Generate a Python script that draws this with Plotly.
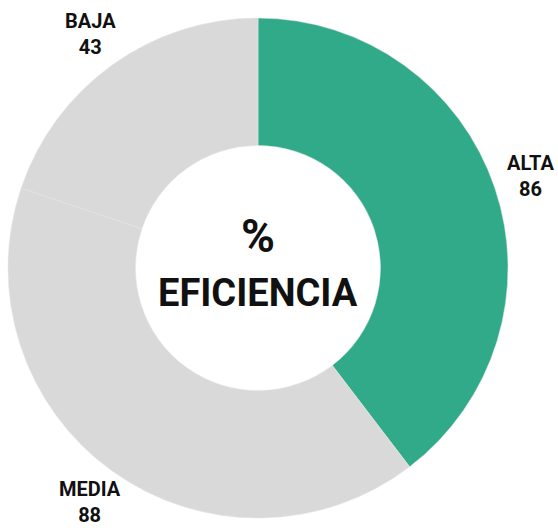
import math
import plotly.graph_objects as go

labels = ["ALTA", "MEDIA", "BAJA"]
values = [86, 88, 43]
colors = ["#31aa8a", "#d9d9d9", "#d9d9d9"]

W, H = 558, 532
CX, CY, R = 258, 268, 250  # pie centre / radius in pixels
LABEL_R = 1.15 * R

fig = go.Figure(go.Pie(
    labels=labels,
    values=values,
    hole=0.49,
    sort=False,
    direction="clockwise",
    rotation=0,
    marker=dict(colors=colors, line=dict(color="#e4e4e4", width=0.5)),
    textinfo="none",
    showlegend=False,
    hoverinfo="label+value",
    automargin=False,
    domain=dict(x=[(CX - R) / W, (CX + R) / W], y=[(H - CY - R) / H, (H - CY + R) / H]),
))

total = sum(values)
acc = 0
for lab, val in zip(labels, values):
    mid = (acc + val / 2) / total * 2 * math.pi
    acc += val
    px = CX + LABEL_R * math.sin(mid)
    py = CY - LABEL_R * math.cos(mid)
    fig.add_annotation(text=f"{lab}<br>{val}", x=px / W, y=(H - py) / H, xref="paper", yref="paper",
                       showarrow=False, xanchor="center", yanchor="middle",
                       font=dict(family="Roboto", size=20, color="#111111", weight="bold"))

fig.add_annotation(text="%", x=CX / W, y=(H - 236) / H, xref="paper", yref="paper", showarrow=False,
                   font=dict(family="Roboto", size=46, color="#111111", weight="bold"))
fig.add_annotation(text="EFICIENCIA", x=CX / W, y=(H - 293) / H, xref="paper", yref="paper", showarrow=False,
                   font=dict(family="Roboto", size=38, color="#111111", weight="bold"))

fig.update_layout(
    width=W, height=H,
    margin=dict(l=0, r=0, t=0, b=0),
    paper_bgcolor="white", plot_bgcolor="white",
)
fig.write_html("out.html", config={"displayModeBar": False},
               post_script="document.body.style.margin='0';document.body.style.overflow='hidden';")
